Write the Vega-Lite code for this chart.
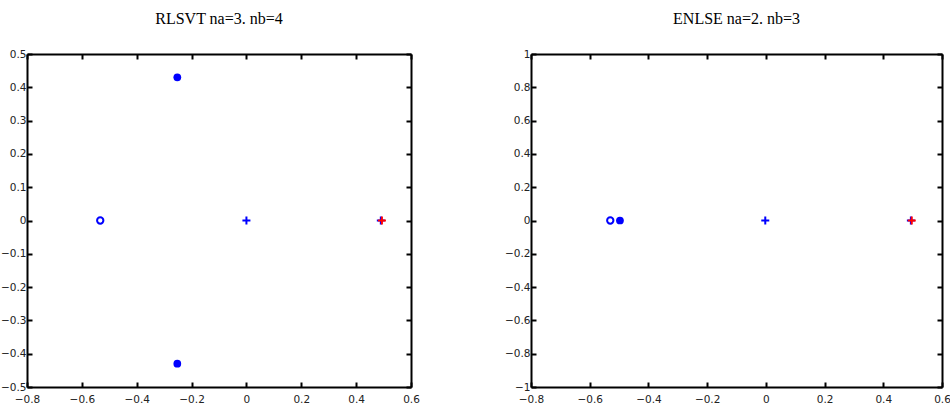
{
  "$schema": "https://vega.github.io/schema/vega-lite/v6.json",
  "background": "white",
  "padding": {"left": 0, "top": 11, "right": 0, "bottom": 0},
  "spacing": 84,
  "config": {
    "view": {"stroke": null},
    "font": "DejaVu Sans",
    "title": {"font": "Liberation Serif", "fontSize": 16, "fontWeight": "normal", "color": "black", "offset": 22},
    "axis": {
      "grid": false,
      "domainColor": "black",
      "domainWidth": 2,
      "tickColor": "black",
      "tickWidth": 2,
      "tickSize": -5,
      "labelFont": "DejaVu Sans",
      "labelFontSize": 10.5,
      "labelColor": "#222",
      "labelPadding": 6,
      "format": "~g",
      "title": null,
      "labelFlush": false,
      "labelOverlap": false
    },
    "axisX": {"labelPadding": 12}
  },
  "datasets": {
    "left": [
      {"x": -0.533, "y": 0, "kind": "zero_open", "color": "blue"},
      {"x": -0.252, "y": 0.43, "kind": "zero_filled", "color": "blue"},
      {"x": -0.252, "y": -0.43, "kind": "zero_filled", "color": "blue"},
      {"x": 0.0, "y": 0, "kind": "pole", "color": "blue"},
      {"x": 0.49, "y": 0, "kind": "pole", "color": "blue"},
      {"x": 0.494, "y": 0, "kind": "pole", "color": "red"}
    ],
    "right": [
      {"x": -0.53, "y": 0, "kind": "zero_open", "color": "blue"},
      {"x": -0.497, "y": 0, "kind": "zero_filled", "color": "blue"},
      {"x": -0.002, "y": 0, "kind": "pole", "color": "blue"},
      {"x": 0.494, "y": 0, "kind": "pole", "color": "blue"},
      {"x": 0.497, "y": 0, "kind": "pole", "color": "red"}
    ]
  },
  "hconcat": [
    {
      "title": "RLSVT na=3. nb=4",
      "width": 384,
      "height": 333,
      "data": {"name": "left"},
      "resolve": {"axis": {"x": "independent", "y": "independent"}},
      "layer": [
        {
          "transform": [{"filter": "datum.kind == 'zero_open'"}],
          "mark": {"type": "point", "shape": "circle", "filled": false, "size": 40, "strokeWidth": 2, "opacity": 1, "color": "#0000ff"},
          "encoding": {
            "x": {"field": "x", "type": "quantitative", "scale": {"domain": [-0.8, 0.6], "nice": false, "zero": false}, "axis": {"orient": "bottom", "values": [-0.8, -0.6, -0.4, -0.2, 0, 0.2, 0.4, 0.6]}},
            "y": {"field": "y", "type": "quantitative", "scale": {"domain": [-0.5, 0.5], "nice": false, "zero": false}, "axis": {"orient": "left", "values": [-0.5, -0.4, -0.3, -0.2, -0.1, 0, 0.1, 0.2, 0.3, 0.4, 0.5]}}
          }
        },
        {
          "transform": [{"filter": "datum.kind == 'zero_filled'"}],
          "mark": {"type": "point", "shape": "circle", "filled": true, "size": 60, "opacity": 1, "color": "#0000ff"},
          "encoding": {
            "x": {"field": "x", "type": "quantitative", "axis": {"orient": "top", "labels": false, "values": [-0.8, -0.6, -0.4, -0.2, 0, 0.2, 0.4, 0.6]}},
            "y": {"field": "y", "type": "quantitative", "axis": {"orient": "right", "labels": false, "values": [-0.5, -0.4, -0.3, -0.2, -0.1, 0, 0.1, 0.2, 0.3, 0.4, 0.5]}}
          }
        },
        {
          "transform": [{"filter": "datum.kind == 'pole'"}],
          "mark": {"type": "point", "shape": "M-1,0L1,0M0,-1L0,1", "filled": false, "size": 64, "strokeWidth": 2, "opacity": 1},
          "encoding": {
            "x": {"field": "x", "type": "quantitative", "axis": null},
            "y": {"field": "y", "type": "quantitative", "axis": null},
            "color": {"field": "color", "type": "nominal", "scale": {"domain": ["blue", "red"], "range": ["#0000ff", "#ff0000"]}, "legend": null},
            "order": {"field": "color"}
          }
        }
      ]
    },
    {
      "title": "ENLSE na=2. nb=3",
      "width": 411,
      "height": 333,
      "data": {"name": "right"},
      "resolve": {"axis": {"x": "independent", "y": "independent"}},
      "layer": [
        {
          "transform": [{"filter": "datum.kind == 'zero_open'"}],
          "mark": {"type": "point", "shape": "circle", "filled": false, "size": 40, "strokeWidth": 2, "opacity": 1, "color": "#0000ff"},
          "encoding": {
            "x": {"field": "x", "type": "quantitative", "scale": {"domain": [-0.8, 0.6], "nice": false, "zero": false}, "axis": {"orient": "bottom", "values": [-0.8, -0.6, -0.4, -0.2, 0, 0.2, 0.4, 0.6]}},
            "y": {"field": "y", "type": "quantitative", "scale": {"domain": [-1, 1], "nice": false, "zero": false}, "axis": {"orient": "left", "values": [-1, -0.8, -0.6, -0.4, -0.2, 0, 0.2, 0.4, 0.6, 0.8, 1]}}
          }
        },
        {
          "transform": [{"filter": "datum.kind == 'zero_filled'"}],
          "mark": {"type": "point", "shape": "circle", "filled": true, "size": 60, "opacity": 1, "color": "#0000ff"},
          "encoding": {
            "x": {"field": "x", "type": "quantitative", "axis": {"orient": "top", "labels": false, "values": [-0.8, -0.6, -0.4, -0.2, 0, 0.2, 0.4, 0.6]}},
            "y": {"field": "y", "type": "quantitative", "axis": {"orient": "right", "labels": false, "values": [-1, -0.8, -0.6, -0.4, -0.2, 0, 0.2, 0.4, 0.6, 0.8, 1]}}
          }
        },
        {
          "transform": [{"filter": "datum.kind == 'pole'"}],
          "mark": {"type": "point", "shape": "M-1,0L1,0M0,-1L0,1", "filled": false, "size": 64, "strokeWidth": 2, "opacity": 1},
          "encoding": {
            "x": {"field": "x", "type": "quantitative", "axis": null},
            "y": {"field": "y", "type": "quantitative", "axis": null},
            "color": {"field": "color", "type": "nominal", "scale": {"domain": ["blue", "red"], "range": ["#0000ff", "#ff0000"]}, "legend": null},
            "order": {"field": "color"}
          }
        }
      ]
    }
  ]
}
